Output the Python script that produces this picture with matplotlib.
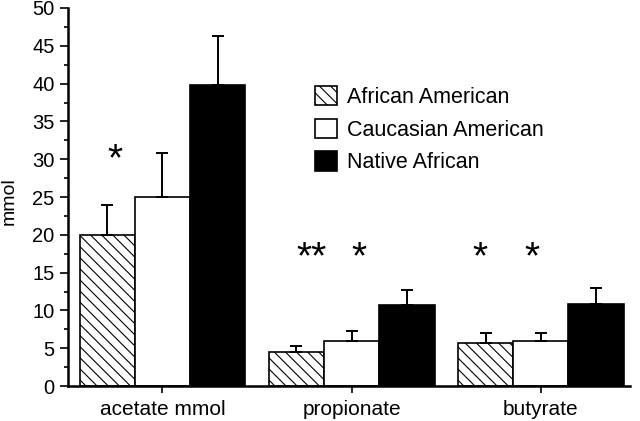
import numpy as np
import matplotlib.pyplot as plt
from matplotlib.ticker import MultipleLocator

plt.rcParams['font.family'] = ['Liberation Sans', 'DejaVu Sans']
plt.rcParams['hatch.linewidth'] = 0.8

categories = ['acetate mmol', 'propionate', 'butyrate']
groups = ['African American', 'Caucasian American', 'Native African']
means = {
    'African American': [20.0, 4.5, 5.7],
    'Caucasian American': [25.0, 6.0, 6.0],
    'Native African': [39.8, 10.7, 10.9],
}
errors = {
    'African American': [4.0, 0.8, 1.3],
    'Caucasian American': [5.8, 1.3, 1.0],
    'Native African': [6.5, 2.0, 2.1],
}
# significance marks: (category index, offset in bar widths, label, height)
stars = [(0, -0.86, '*', 29.8), (1, -0.73, '**', 16.9), (1, 0.14, '*', 16.9),
         (2, -1.1, '*', 16.9), (2, -0.16, '*', 16.9)]

styles = {
    'African American': dict(facecolor='white', hatch='\\\\\\'),
    'Caucasian American': dict(facecolor='white'),
    'Native African': dict(facecolor='black'),
}

fig = plt.figure(figsize=(6.4, 4.21), dpi=100)
ax = fig.add_axes([0.106, 0.083, 0.878, 0.898])

x = np.arange(len(categories))
width = 0.292
for i, g in enumerate(groups):
    pos = x + (i - 1) * width
    ax.bar(pos, means[g], width, edgecolor='black', linewidth=1.2,
           label=g, **styles[g])
    ax.errorbar(pos, means[g], yerr=[np.zeros(len(x)), errors[g]],
                fmt='none', ecolor='black', elinewidth=1.4, capsize=4,
                capthick=1.4)

for ci, off, s, h in stars:
    ax.text(x[ci] + off * width, h, s, ha='center', va='center',
            fontsize=28)

ax.set_xlim(-0.5, 2.47)
ax.set_ylim(0, 50)
ax.set_xticks(x)
ax.set_xticklabels(categories, fontsize=15)
ax.yaxis.set_major_locator(MultipleLocator(5))
ax.yaxis.set_minor_locator(MultipleLocator(2.5))
ax.tick_params(axis='y', labelsize=14.5, direction='out', length=6, width=1.2)
ax.tick_params(axis='y', which='minor', length=3, width=1.2)
ax.tick_params(axis='x', length=5, width=1.2, pad=5)
ax.set_ylabel('mmol', fontsize=14)
ax.yaxis.set_label_coords(-0.09, 0.49)
for side in ['top', 'right']:
    ax.spines[side].set_visible(False)
for side in ['left', 'bottom']:
    ax.spines[side].set_linewidth(1.8)

ax.legend(loc='upper left', bbox_to_anchor=(0.44, 0.794), frameon=False,
          fontsize=15.5, handlelength=1.0, handleheight=1.0,
          handletextpad=0.5, labelspacing=0.5, borderpad=0,
          borderaxespad=0)

plt.savefig('out.png', dpi=100)
